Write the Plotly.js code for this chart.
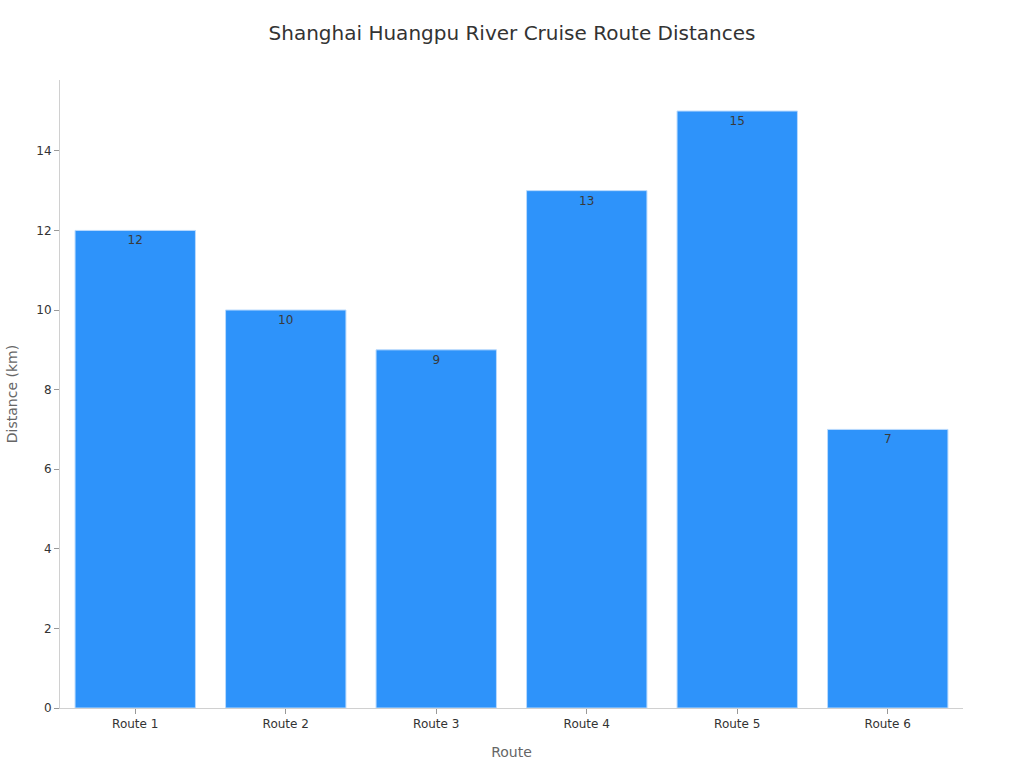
<!DOCTYPE html>
<html>
<head>
<meta charset="utf-8">
<script src="https://cdn.plot.ly/plotly-3.0.1.min.js"></script>
<style>
  html, body { margin: 0; padding: 0; background: #fff; }
  #chart { width: 1024px; height: 768px; }
</style>
</head>
<body>
<div id="chart"></div>
<script>
// ── Data ──────────────────────────────────────────────
var routes    = ['Route 1', 'Route 2', 'Route 3', 'Route 4', 'Route 5', 'Route 6'];
var distances = [12, 10, 9, 13, 15, 7];
var yTicks    = [0, 2, 4, 6, 8, 10, 12, 14];

var FONT = 'DejaVu Sans, sans-serif';

var trace = {
    type: 'bar',
    x: routes,
    y: distances,
    text: distances.map(String),
    textposition: 'inside',
    insidetextanchor: 'end',
    textfont: { family: FONT, size: 12, color: '#3a3a3a' },
    marker: { color: '#2E93FA', line: { color: '#B9DAFD', width: 1 } },
    hoverinfo: 'x+y',
    showlegend: false
};

var layout = {
    width: 1024, height: 768,
    paper_bgcolor: '#ffffff', plot_bgcolor: '#ffffff',
    margin: { l: 60, r: 61, t: 80, b: 60 },
    bargap: 0.2,
    font: { family: FONT, color: '#333333' },
    title: { text: 'Shanghai Huangpu River Cruise Route Distances',
        font: { family: FONT, size: 20, color: '#333333' }, x: 0.5, xanchor: 'center', y: 0.957, yanchor: 'middle' },
    xaxis: {
        title: { text: 'Route', font: { family: FONT, size: 14, color: '#666666' }, standoff: 16 },
        tickfont: { family: FONT, size: 12, color: '#333333' },
        ticks: 'outside', ticklen: 5, tickcolor: '#999999',
        showline: true, linecolor: '#d0d0d0', linewidth: 1,
        showgrid: false, zeroline: false
    },
    yaxis: {
        title: { text: 'Distance (km)', font: { family: FONT, size: 14, color: '#666666' }, standoff: 15 },
        tickvals: yTicks,
        tickfont: { family: FONT, size: 12, color: '#333333' },
        ticks: 'outside', ticklen: 5, tickcolor: '#999999',
        showline: true, linecolor: '#d0d0d0', linewidth: 1,
        showgrid: false, zeroline: false,
        range: [0, 15.78]
    }
};

Plotly.newPlot('chart', [trace], layout, { displayModeBar: false, staticPlot: true });
</script>
</body>
</html>
